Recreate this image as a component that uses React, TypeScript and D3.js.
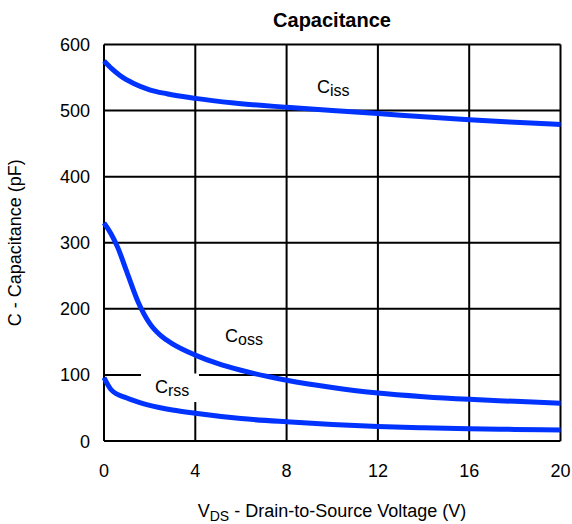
import React from "react";
import * as d3 from "d3";

const xTicks = [0, 4, 8, 12, 16, 20];
const yTicks = [0, 100, 200, 300, 400, 500, 600];

const cissV = [0, 0.35, 0.7, 1.3, 2, 2.75, 4, 5.7, 8, 10, 12, 14, 16, 18, 20];
const cissC = [575, 563, 553, 541, 531.5, 525.5, 518.5, 511.5, 505, 500, 495.5, 490.5, 486, 482.3, 479];

const cossV = [0, 0.3, 0.6, 1, 1.5, 2, 2.5, 3, 4, 5, 6, 8, 10, 12, 14, 16, 18, 20];
const cossC = [330, 314, 293, 256, 210, 178, 159, 147, 130, 117, 107, 92, 81, 72.5, 67, 63, 60, 57];

const crssV = [0, 0.33, 1, 1.5, 2, 3, 4, 6, 8, 10, 12, 14, 16, 18, 20];
const crssC = [96, 77, 65, 59, 54, 47, 42, 34, 29, 25, 22, 20, 18.6, 17.5, 16.6];

const W = 572, H = 524;
const L = 104, R = 560.5, T = 44.5, B = 441;
const FONT = "Arial, 'Liberation Sans', Helvetica, sans-serif";
const BLUE = "#0033ff";

export default function App() {
  const x = d3.scaleLinear().domain([0, 20]).range([L, R]);
  const y = d3.scaleLinear().domain([0, 600]).range([B, T]);
  const line = d3
    .line<[number, number]>()
    .x((d) => x(d[0]))
    .y((d) => y(d[1]))
    .curve(d3.curveMonotoneX);
  const series = [
    cissV.map((v, i) => [v, cissC[i]] as [number, number]),
    cossV.map((v, i) => [v, cossC[i]] as [number, number]),
    crssV.map((v, i) => [v, crssC[i]] as [number, number]),
  ];
  return (
    <svg
      width={W}
      height={H}
      style={{ position: "absolute", left: 0, top: 0, background: "#fff" }}
      fontFamily={FONT}
    >
      <rect x={0} y={0} width={W} height={H} fill="#fff" />
      <text x={332} y={27} textAnchor="middle" fontSize={20} fontWeight="bold" fill="#000">
        Capacitance
      </text>
      {xTicks.map((t) => (
        <line key={"gx" + t} x1={x(t)} x2={x(t)} y1={T} y2={B} stroke="#000" strokeWidth={2} />
      ))}
      {yTicks.map((t) => (
        <line key={"gy" + t} x1={L} x2={R} y1={y(t)} y2={y(t)} stroke="#000" strokeWidth={2} />
      ))}
      <rect x={141} y={373.5} width={58} height={28.5} fill="#fff" />
      {series.map((s, i) => (
        <path key={i} d={line(s) || ""} fill="none" stroke={BLUE} strokeWidth={5} strokeLinejoin="round" />
      ))}
      {yTicks.map((t) => (
        <text key={"yl" + t} x={90} y={y(t) + 6.5} textAnchor="end" fontSize={18} fill="#000">
          {t}
        </text>
      ))}
      {xTicks.map((t) => (
        <text key={"xl" + t} x={x(t)} y={477} textAnchor="middle" fontSize={18} fill="#000">
          {t}
        </text>
      ))}
      <text x={332} y={517} textAnchor="middle" fontSize={18} fill="#000">
        V<tspan fontSize={14} dy={4}>DS</tspan>
        <tspan dy={-4}> - Drain-to-Source Voltage (V)</tspan>
      </text>
      <text
        transform={`translate(21, ${(T + B) / 2}) rotate(-90)`}
        textAnchor="middle"
        fontSize={18}
        fill="#000"
      >
        C - Capacitance (pF)
      </text>
      <text x={317} y={93} fontSize={18} fill="#000">
        C<tspan fontSize={16} dy={3}>iss</tspan>
      </text>
      <text x={225} y={342} fontSize={18} fill="#000">
        C<tspan fontSize={16} dy={3}>oss</tspan>
      </text>
      <text x={155} y={393} fontSize={18} fill="#000">
        C<tspan fontSize={16} dy={3}>rss</tspan>
      </text>
    </svg>
  );
}
